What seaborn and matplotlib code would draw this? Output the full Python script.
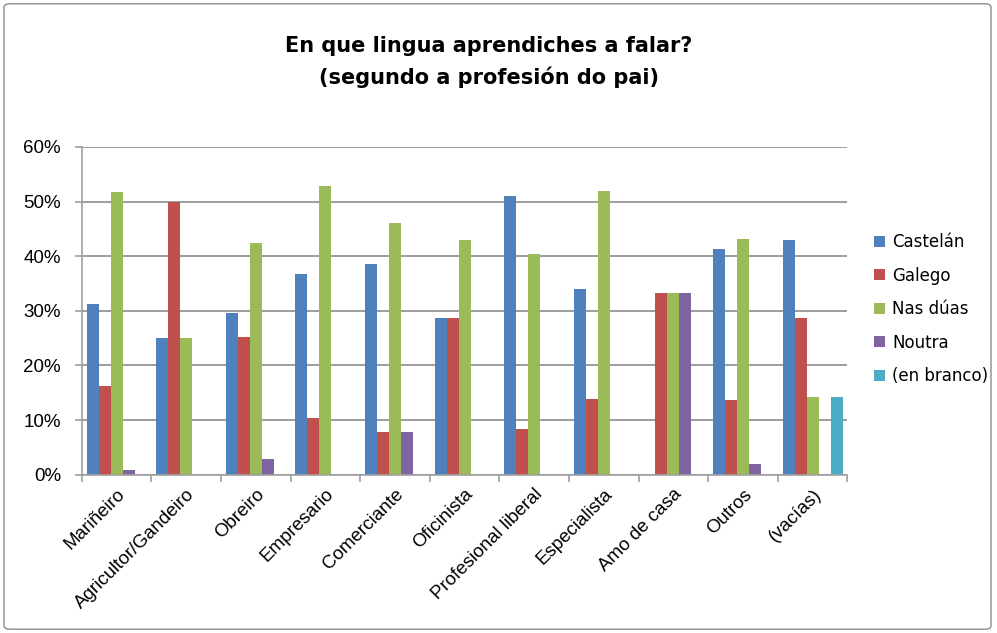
import matplotlib.pyplot as plt
import matplotlib.ticker as mticker
from matplotlib.patches import FancyBboxPatch
import numpy as np
import pandas as pd
import seaborn as sns

categories = ["Mariñeiro", "Agricultor/Gandeiro", "Obreiro", "Empresario", "Comerciante",
              "Oficinista", "Profesional liberal", "Especialista", "Amo de casa", "Outros",
              "(vacías)"]
series = ["Castelán", "Galego", "Nas dúas", "Noutra", "(en branco)"]
castelan = [31.2, 25.0, 29.6, 36.7, 38.6, 28.7, 51.0, 34.0, np.nan, 41.3, 42.9]
galego = [16.3, 50.0, 25.2, 10.4, 7.9, 28.7, 8.4, 13.9, 33.3, 13.7, 28.7]
nas_duas = [51.7, 25.0, 42.4, 52.8, 46.0, 42.9, 40.4, 51.9, 33.3, 43.1, 14.3]
noutra = [0.9, np.nan, 2.9, np.nan, 7.9, np.nan, np.nan, np.nan, 33.3, 2.0, np.nan]
en_branco = [np.nan] * 10 + [14.3]
colors = ["#4F81BD", "#C0504D", "#9BBB59", "#8064A2", "#4BACC6"]

rows = []
for name, vals in zip(series, [castelan, galego, nas_duas, noutra, en_branco]):
    for cat, v in zip(categories, vals):
        rows.append({"categoria": cat, "serie": name, "valor": v / 100})
df = pd.DataFrame(rows)

sns.set_theme(style="white", rc={"text.color": "black", "xtick.color": "black",
                                 "ytick.color": "black"})
plt.rcParams["font.family"] = ["DejaVu Sans"]

fig = plt.figure(figsize=(9.97, 6.33), dpi=100)
ax = fig.add_axes([0.082, 0.25, 0.768, 0.518])

sns.barplot(data=df, x="categoria", y="valor", hue="serie", order=categories,
            hue_order=series, palette=colors, width=0.86, saturation=1,
            errorbar=None, linewidth=0, ax=ax)

ax.set_ylim(0, 0.6)
ax.set_xlim(-0.5, len(categories) - 0.5)
ax.yaxis.set_major_locator(mticker.MultipleLocator(0.1))
ax.yaxis.set_major_formatter(mticker.PercentFormatter(1.0, decimals=0))
ax.grid(axis="y", color="#8c8c8c", linewidth=1.2)
ax.set_axisbelow(True)
for side in ["top", "right"]:
    ax.spines[side].set_visible(False)
for side in ["left", "bottom"]:
    ax.spines[side].set_color("#a0a0a0")
    ax.spines[side].set_linewidth(1.2)

ax.set_xlabel("")
ax.set_ylabel("")
ax.set_xticks(range(len(categories)))
ax.set_xticklabels(categories, rotation=45, ha="right", rotation_mode="anchor",
                   fontfamily="Liberation Sans", fontsize=13.5)
ax.tick_params(axis="x", which="major", length=0, pad=8)
ax.set_xticks(np.arange(-0.5, len(categories)), minor=True)
ax.tick_params(axis="x", which="minor", length=5, color="#a0a0a0", width=1.2,
               bottom=True)
ax.tick_params(axis="y", length=5, color="#a0a0a0", width=1.2, left=True,
               labelsize=13.5, pad=10)
for lab in ax.get_yticklabels():
    lab.set_fontfamily("Liberation Sans")

leg = ax.legend(loc="center left", bbox_to_anchor=(1.026, 0.505), frameon=False,
                fontsize=12, handlelength=0.65, handleheight=0.65, labelspacing=0.93,
                handletextpad=0.45, borderaxespad=0)
for t in leg.get_texts():
    t.set_color("black")

fig.text(0.49, 0.902, "En que lingua aprendiches a falar?\n(segundo a profesión do pai)",
         ha="center", va="center", fontsize=15, fontweight="bold", linespacing=1.55,
         color="black")

fig.patches.append(FancyBboxPatch((0.004, 0.006), 0.99, 0.988, boxstyle="round,pad=0,rounding_size=0.006",
                                  transform=fig.transFigure, fill=False,
                                  edgecolor="#8c8c8c", linewidth=1))

plt.savefig("out.png", dpi=100)
